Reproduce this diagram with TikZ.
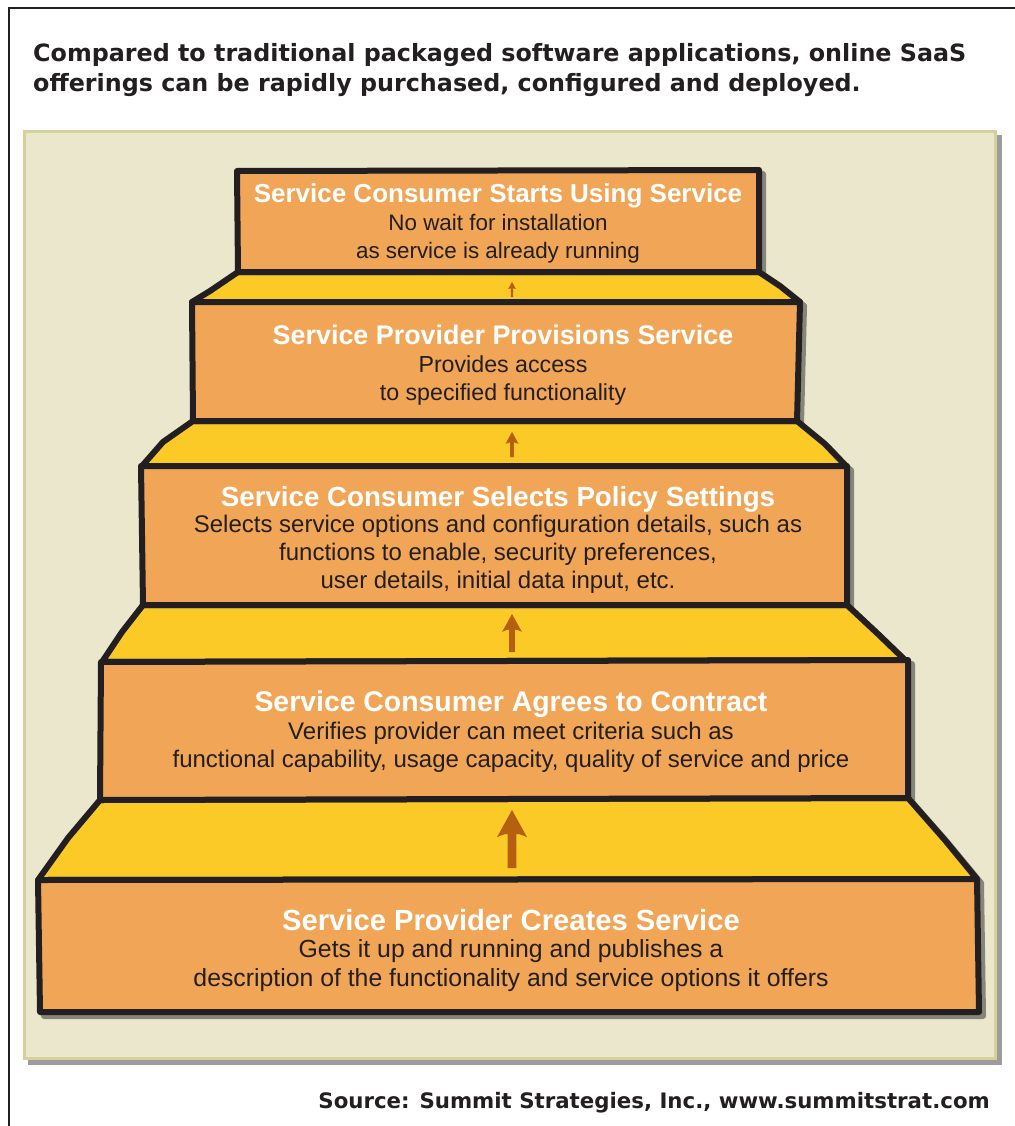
\documentclass[tikz,border=0pt]{standalone}
\usepackage{fontspec}
\setmainfont{Liberation Sans}
\newfontfamily\headfont{DejaVu Sans}
\definecolor{ink}{HTML}{231F20}
\definecolor{panelbg}{HTML}{EBE7CD}
\definecolor{panelrule}{HTML}{D5D09C}
\definecolor{panelshade}{HTML}{9C9C9C}
\definecolor{stepfill}{HTML}{F1A556}
\definecolor{risefill}{HTML}{FBCA26}
\definecolor{stepshade}{HTML}{85857A}
\definecolor{arrowc}{HTML}{B4600F}
\tikzset{
  stepbox/.style={fill=stepfill, draw=ink, line width=6pt, line join=round},
  risebox/.style={fill=risefill, draw=ink, line width=6pt, line join=round},
  steptitle/.style={anchor=base, text=white, font=\bfseries\fontsize{#1}{28}\selectfont, inner sep=0pt},
  stepbody/.style={anchor=base, text=ink, font=\fontsize{#1}{28}\selectfont, align=center, inner sep=0pt},
  headline/.style={anchor=base west, text=ink, font=\headfont\bfseries\fontsize{23.8}{30}\selectfont, inner sep=0pt},
  uparrow/.pic={
    \fill[arrowc] (0,0) -- (0.26,0.47) .. controls (0.15,0.42) .. (0.075,0.41)
      -- (0.075,1) -- (-0.075,1) -- (-0.075,0.41) .. controls (-0.15,0.42) .. (-0.26,0.47) -- cycle;
  }
}
\begin{document}
\begin{tikzpicture}[x=1pt,y=-1pt]
\useasboundingbox (0,0) rectangle (1014,1126);
\fill[white] (0,0) rectangle (1014,1126);

% outer frame (open towards the right and bottom edges)
\draw[ink, line width=2pt] (9,1130) -- (9,8) -- (1020,8);

% headline
\node[headline] (head1) at (33,62) {Compared to traditional packaged software applications, online SaaS};
\node[headline] (head2) at (33,92) {offerings can be rapidly purchased, configured and deployed.};

% panel with drop shadow
\fill[panelshade] (28,135) rectangle (1002,1065);
\fill[panelbg] (23,130) rectangle (997,1060);
\draw[panelrule, line width=3pt] (24.5,131.5) rectangle (995.5,1058.5);

% step outlines
\def\boxA{(237,171) -- (759,170) -- (759,272) -- (238,272) -- cycle}
\def\riseA{(238,272) -- (759,272) -- (780,286) -- (800,302) -- (192,302) -- (210,291) -- cycle}
\def\boxB{(192,302) -- (800,302) -- (797,421) -- (193,421) -- cycle}
\def\riseB{(193,421) -- (797,421) -- (825,444) -- (846,466) -- (142,466) -- (163,442) -- cycle}
\def\boxC{(141,466) -- (847,466) -- (847,605) -- (143,605) -- cycle}
\def\riseC{(143,605) -- (847,605) -- (878,634) -- (905,660) -- (102,662) -- (122,632) -- cycle}
\def\boxD{(101,662) -- (908,660) -- (908,798) -- (100,800) -- cycle}
\def\riseD{(100,800) -- (908,798) -- (944,839) -- (977,879) -- (38,880) -- (68,838) -- cycle}
\def\boxE{(38,880) -- (977,879) -- (979,1012) -- (40,1012) -- cycle}

% shadows
\begin{scope}[shift={(4,4)}]
\foreach \p in {\riseA,\riseB,\riseC,\riseD,\boxA,\boxB,\boxC,\boxD,\boxE}{
  \filldraw[fill=stepshade, draw=stepshade, line width=6pt, line join=round] \p;
}
\end{scope}

% risers and steps
\draw[risebox] \riseD;
\draw[risebox] \riseC;
\draw[risebox] \riseB;
\draw[risebox] \riseA;
\draw[stepbox] \boxE;
\draw[stepbox] \boxD;
\draw[stepbox] \boxC;
\draw[stepbox] \boxB;
\draw[stepbox] \boxA;

% arrows between steps
\pic[scale=15] at (512,282) {uparrow};
\pic[scale=25] at (512,432) {uparrow};
\pic[scale=38] at (512,614) {uparrow};
\pic[scale=58] at (512,810) {uparrow};

% step texts
\node[steptitle=26] (t1) at (498,202) {Service Consumer Starts Using Service};
\node[stepbody=22.4] (b1a) at (498,230) {No wait for installation};
\node[stepbody=22.4] (b1b) at (498,258) {as service is already running};

\node[steptitle=26.9] (t2) at (503,344.5) {Service Provider Provisions Service};
\node[stepbody=23.2] (b2a) at (503,372) {Provides access};
\node[stepbody=23.2] (b2b) at (503,400) {to specified functionality};

\node[steptitle=27.7] (t3) at (498,506) {Service Consumer Selects Policy Settings};
\node[stepbody=24] (b3a) at (498,532.5) {Selects service options and configuration details, such as};
\node[stepbody=24] (b3b) at (498,560.5) {functions to enable, security preferences,};
\node[stepbody=24] (b3c) at (498,588.5) {user details, initial data input, etc.};

\node[steptitle=28.4] (t4) at (511,711) {Service Consumer Agrees to Contract};
\node[stepbody=24] (b4a) at (511,739.5) {Verifies provider can meet criteria such as};
\node[stepbody=24] (b4b) at (511,767.5) {functional capability, usage capacity, quality of service and price};

\node[steptitle=29.2] (t5) at (511,930.5) {Service Provider Creates Service};
\node[stepbody=24.8] (b5a) at (511,957) {Gets it up and running and publishes a};
\node[stepbody=24.8] (b5b) at (511,986) {description of the functionality and service options it offers};

% source line
\node[anchor=base east, text=ink, font=\headfont\bfseries\fontsize{21.3}{24}\selectfont, inner sep=0pt] (src) at (990,1108) {Source: Summit Strategies, Inc., www.summitstrat.com};
\end{tikzpicture}
\end{document}
